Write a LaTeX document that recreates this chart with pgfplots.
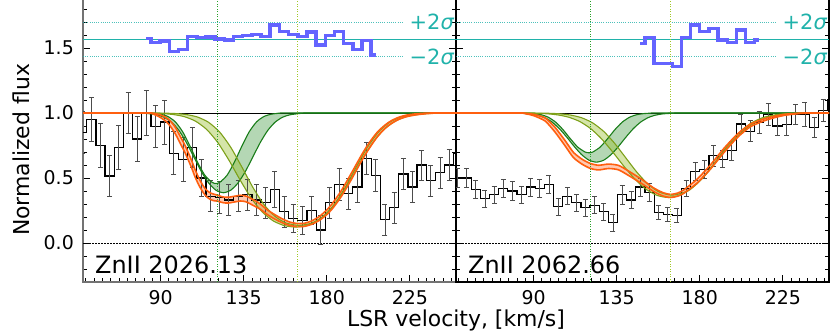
\documentclass[border=0pt]{standalone}
\usepackage{fontspec}
\setmainfont{DejaVu Sans}
\usepackage{pgfplots}
\pgfplotsset{compat=1.18}
\usepackage{pgfplotstable}
\usepgfplotslibrary{fillbetween}

\definecolor{orE}{RGB}{255,95,15}
\definecolor{orF}{RGB}{255,120,60}
\definecolor{dgE}{RGB}{25,125,25}
\definecolor{dgF}{RGB}{40,140,40}
\definecolor{ygE}{RGB}{125,160,25}
\definecolor{ygF}{RGB}{150,190,40}
\definecolor{vlG}{RGB}{40,160,40}
\definecolor{vlY}{RGB}{160,200,40}
\definecolor{resB}{RGB}{100,100,255}
\definecolor{tealS}{RGB}{32,178,170}

% columns: bin centre, bin left edge, flux, error
\pgfplotstableread{
v le f e
47.5 45.0 0.85 0.16
52.5 50.0 0.95 0.17
57.5 55.0 0.75 0.17
62.4 59.9 0.515 0.16
67.4 64.9 0.735 0.17
72.4 69.9 1.0 0.16
77.3 74.8 0.80 0.17
82.3 79.8 1.0 0.17
87.3 84.8 0.895 0.16
92.3 89.8 0.93 0.17
97.2 94.7 0.69 0.165
102.2 99.7 0.64 0.17
107.2 104.7 0.735 0.155
112.1 109.6 0.50 0.14
117.1 114.6 0.36 0.12
122.1 119.6 0.35 0.12
127.0 124.5 0.33 0.12
132.0 129.5 0.36 0.12
137.0 134.5 0.37 0.12
142.0 139.5 0.33 0.12
146.9 144.4 0.31 0.12
151.9 149.4 0.41 0.14
156.9 154.4 0.24 0.12
161.8 159.3 0.19 0.11
166.8 164.3 0.175 0.11
171.8 169.3 0.25 0.11
176.8 174.3 0.10 0.11
181.7 179.2 0.31 0.12
186.7 184.2 0.45 0.12
191.7 189.2 0.38 0.12
196.6 194.1 0.43 0.12
201.6 199.1 0.65 0.125
206.6 204.1 0.52 0.12
211.5 209.0 0.18 0.12
216.5 214.0 0.27 0.12
221.5 219.0 0.53 0.12
226.5 224.0 0.43 0.12
231.4 228.9 0.60 0.115
236.4 233.9 0.48 0.12
241.4 238.9 0.54 0.12
246.3 243.8 0.60 0.12
251.3 248.8 0.69 0.12
256.0 253.8 0.69 0
}\dataL

\pgfplotstableread{
v le f e
48.85 46.4 0.50 0.07
53.8 51.3 0.50 0.07
58.75 56.3 0.41 0.07
63.7 61.2 0.34 0.065
68.65 66.2 0.37 0.065
73.6 71.1 0.42 0.07
78.55 76.1 0.40 0.07
83.5 81.0 0.37 0.065
88.45 86.0 0.43 0.07
93.4 90.9 0.42 0.07
98.35 95.9 0.45 0.07
103.3 100.8 0.28 0.065
108.25 105.8 0.36 0.065
113.2 110.7 0.31 0.065
118.15 115.7 0.27 0.065
123.1 120.6 0.29 0.065
128.05 125.6 0.24 0.065
133.0 130.5 0.157 0.065
137.95 135.5 0.37 0.07
142.9 140.4 0.33 0.065
147.85 145.4 0.43 0.07
152.8 150.3 0.39 0.07
157.75 155.3 0.233 0.055
162.7 160.2 0.22 0.055
167.65 165.2 0.21 0.055
172.6 170.1 0.42 0.065
177.55 175.1 0.55 0.07
182.5 180.0 0.565 0.07
187.45 185.0 0.67 0.08
192.4 189.9 0.645 0.065
197.35 194.9 0.71 0.075
202.3 199.8 0.915 0.075
207.25 204.8 0.86 0.08
212.2 209.7 0.93 0.085
217.15 214.7 0.99 0.085
222.1 219.6 0.90 0.075
227.05 224.6 0.91 0.085
232.0 229.5 0.99 0.075
236.95 234.5 0.99 0.09
241.9 239.4 0.89 0.075
246.85 244.4 1.02 0.085
251.8 249.3 1.10 0.09
257.0 254.3 1.10 0
}\dataR

\pgfplotstableread{
x r
82.3 1.572
84.8 1.541
89.8 1.553
94.75 1.472
99.7 1.49
104.7 1.59
109.65 1.58
114.6 1.585
119.6 1.57
124.55 1.561
129.5 1.59
134.5 1.597
139.5 1.602
144.45 1.59
149.4 1.677
154.4 1.625
159.35 1.602
164.3 1.59
169.3 1.622
174.3 1.523
179.25 1.597
184.2 1.625
189.2 1.536
194.15 1.49
199.1 1.556
204.1 1.446
206.6 1.446
}\resL

\pgfplotstableread{
x r
147.85 1.536
150.3 1.582
155.3 1.382
160.2 1.382
165.2 1.356
170.1 1.582
175.1 1.677
180.0 1.625
185.0 1.651
189.9 1.562
194.9 1.543
199.8 1.638
204.8 1.543
209.7 1.562
212.2 1.562
}\resR

\pgfplotstableread{
v u l
48 1 1
82 1 1
86 0.998 0.992
90 0.985 0.965
93 0.965 0.935
95.2 0.94 0.90
98 0.89 0.84
100.6 0.822 0.768
103 0.758 0.702
105.1 0.692 0.636
107 0.628 0.572
108.7 0.564 0.508
111 0.492 0.438
113.3 0.435 0.385
115 0.405 0.355
117 0.385 0.335
119 0.375 0.325
121 0.368 0.322
123 0.357 0.313
125 0.352 0.308
127 0.352 0.308
129 0.357 0.313
131 0.362 0.318
133 0.367 0.323
135 0.365 0.321
137 0.357 0.313
139 0.342 0.298
141 0.327 0.283
144 0.30 0.26
148 0.253 0.217
152 0.217 0.183
156 0.185 0.155
160 0.161 0.135
164 0.15 0.126
168 0.152 0.128
172 0.171 0.145
176 0.204 0.174
180 0.254 0.218
183 0.303 0.263
187 0.383 0.339
190 0.453 0.407
193.7 0.546 0.498
197 0.63 0.584
199.1 0.683 0.637
202 0.75 0.706
205 0.81 0.77
208 0.862 0.828
211.8 0.91 0.884
215 0.941 0.919
219 0.967 0.951
223 0.983 0.971
228 0.993 0.985
234 0.999 0.995
240 1 1
250 1 1
}\orL

\pgfplotstableread{
v u l
48 1 1
82 1 1
86 0.997 0.993
90 0.99 0.98
96.3 0.962 0.938
101.7 0.888 0.852
107.1 0.787 0.747
111.6 0.697 0.657
116.2 0.645 0.607
120.7 0.612 0.574
125.2 0.598 0.562
130.6 0.607 0.573
136 0.597 0.563
141.5 0.553 0.519
148.7 0.488 0.456
155 0.424 0.396
160 0.388 0.362
164.1 0.374 0.35
168 0.384 0.36
171.3 0.408 0.382
178.5 0.49 0.46
185.8 0.601 0.569
193 0.726 0.694
200.2 0.835 0.809
207.5 0.915 0.895
216.5 0.962 0.948
225.5 0.989 0.981
234.6 0.999 0.997
240 1 1
250 1 1
}\orR

\pgfplotsset{
  panel/.style={
    scale only axis, width=373bp, height=286bp,
    xmin=48, xmax=250, ymin=-0.3, ymax=1.9,
    xtick={90,135,180,225}, xticklabels={90,135,180,225},
    minor xtick={49.5,54,...,249},
    ytick={0,0.5,1,1.5},
    minor ytick={-0.2,-0.1,...,1.85},
    xtick pos=left,
    tick align=inside,
    major tick length=7bp, minor tick length=4bp,
    every tick/.style={black, line width=0.9bp},
    every minor tick/.style={black, line width=0.8bp},
    tick label style={font=\fontsize{19}{19}\selectfont},
    xticklabel style={inner sep=0pt, anchor=north, yshift=-8bp},
    yticklabel style={inner sep=0pt, anchor=east, xshift=-9bp},
    /pgf/number format/assume math mode=true,
    clip=true,
  },
  sigl/.style={tealS, line width=0.8bp, dash pattern=on 1bp off 1.2bp, opacity=0.8},
  stepline/.style={black, line width=1.2bp, const plot mark left, mark=none},
  errs/.style={draw=none, mark=none,
    error bars/.cd, y dir=both, y explicit,
    error bar style={line width=0.8bp, draw=black!70},
    error mark options={rotate=90, draw=black!70, mark size=2.5bp, line width=0.8bp}},
  dgedge/.style={dgE, line width=1.1bp, smooth, tension=0.4},
  ygedge/.style={ygE, line width=1.1bp, smooth, tension=0.4},
  oredge/.style={orE, line width=1.6bp, smooth, tension=0.4},
  resid/.style={resB, line width=3.5bp, const plot mark left, mark=none},
}

\begin{document}
\begin{tikzpicture}
% ---------------- left panel ----------------
\begin{axis}[panel, axis line style={black!55, line width=1.3bp},
  yticklabels={0.0,0.5,1.0,1.5}]
  \addplot[tealS, line width=0.8bp] coordinates {(48,1.567) (250,1.567)};
  \addplot[sigl] coordinates {(48,1.70) (221.7,1.70)};
  \addplot[sigl] coordinates {(48,1.432) (221.7,1.432)};
  \addplot[black, line width=0.8bp] coordinates {(48,1) (250,1)};
  \addplot[black, line width=0.7bp, dash pattern=on 1.5bp off 1.5bp] coordinates {(48,0) (250,0)};
  \addplot[stepline] table[x=le, y=f] {\dataL};
  \addplot[errs] table[x=v, y=f, y error=e] {\dataL};
  \addplot[dgedge, name path=aU1] coordinates {(48,1) (80,1) (86,0.9975) (90,0.991) (94,0.973) (98,0.932) (102,0.855) (106,0.744) (110,0.622) (114,0.521) (118,0.466) (120,0.458) (122,0.466) (126,0.521) (130,0.622) (134,0.744) (138,0.855) (142,0.932) (146,0.973) (150,0.991) (154,0.9975) (160,1) (250,1)};
  \addplot[dgedge, name path=aL1] coordinates {(48,1) (76,1) (82,0.997) (88,0.986) (92,0.967) (96,0.929) (100,0.865) (104,0.773) (108,0.6625) (112,0.552) (116,0.4627) (120,0.406) (124,0.3867) (128,0.406) (132,0.4627) (136,0.552) (140,0.6625) (144,0.773) (148,0.865) (152,0.929) (156,0.967) (160,0.986) (166,0.997) (172,1) (250,1)};
  \addplot[dgF, fill opacity=0.35, draw=none] fill between[of=aU1 and aL1];
  \addplot[ygedge, name path=aU2] coordinates {(48,1) (86,1) (92,0.9987) (98,0.9958) (104,0.988) (110,0.969) (116,0.9285) (122,0.8535) (128,0.7365) (134,0.5854) (140,0.4279) (146,0.2956) (152,0.2047) (158,0.1541) (165,0.1353) (172,0.1541) (178,0.2047) (184,0.2956) (190,0.4279) (196,0.5854) (202,0.7365) (208,0.8535) (214,0.9285) (220,0.969) (226,0.988) (232,0.9958) (238,0.9987) (244,1) (250,1)};
  \addplot[ygedge, name path=aL2] coordinates {(48,1) (80,1) (85,0.9985) (91,0.9956) (97,0.988) (103,0.9714) (109,0.9366) (115,0.8731) (121,0.7727) (127,0.6378) (133,0.4866) (139,0.347) (145,0.2396) (151,0.1704) (157,0.1337) (163,0.1225) (169,0.1337) (175,0.1704) (181,0.2396) (187,0.347) (193,0.4866) (199,0.6378) (205,0.7727) (211,0.8731) (217,0.9366) (223,0.9714) (229,0.988) (235,0.9956) (241,0.9985) (247,1) (250,1)};
  \addplot[ygF, fill opacity=0.4, draw=none] fill between[of=aU2 and aL2];
  \addplot[oredge, name path=aUo] table[x=v, y=u] {\orL};
  \addplot[oredge, name path=aLo] table[x=v, y=l] {\orL};
  \addplot[orF, fill opacity=0.4, draw=none] fill between[of=aUo and aLo];
  \addplot[vlG, line width=1bp, dash pattern=on 1bp off 1.5bp] coordinates {(120.7,-0.3) (120.7,1.9)};
  \addplot[vlY, line width=1bp, dash pattern=on 1bp off 1.5bp] coordinates {(164,-0.3) (164,1.9)};
  \addplot[resid] table[x=x, y=r] {\resL};
  \node[anchor=west, inner sep=0pt, text=tealS, font=\fontsize{21}{21}\selectfont] at (axis cs:224.8,1.70) {+2{\itshape σ}};
  \node[anchor=west, inner sep=0pt, text=tealS, font=\fontsize{21}{21}\selectfont] at (axis cs:224.8,1.432) {−2{\itshape σ}};
  \node[anchor=base west, inner sep=0pt, font=\fontsize{24}{24}\selectfont] at (axis cs:54.5,-0.232) {ZnII 2026.13};
\end{axis}
% ---------------- right panel ----------------
\begin{axis}[panel, at={(373bp,0)}, anchor=south west,
  axis line style={black, line width=1.3bp}, yticklabels={}]
  \addplot[tealS, line width=0.8bp] coordinates {(48,1.567) (250,1.567)};
  \addplot[sigl] coordinates {(48,1.70) (221.7,1.70)};
  \addplot[sigl] coordinates {(48,1.432) (221.7,1.432)};
  \addplot[black, line width=0.8bp] coordinates {(48,1) (250,1)};
  \addplot[black, line width=0.7bp, dash pattern=on 1.5bp off 1.5bp] coordinates {(48,0) (250,0)};
  \addplot[stepline] table[x=le, y=f] {\dataR};
  \addplot[errs] table[x=v, y=f, y error=e] {\dataR};
  \addplot[dgedge, name path=bU1] coordinates {(48,1) (80,1) (86,0.9988) (90,0.9958) (94,0.9873) (98,0.9674) (102,0.9294) (106,0.871) (110,0.8007) (114,0.7369) (118,0.6993) (120,0.6942) (122,0.6993) (126,0.7369) (130,0.8007) (134,0.871) (138,0.9294) (142,0.9674) (146,0.9873) (150,0.9958) (154,0.9988) (160,1) (250,1)};
  \addplot[dgedge, name path=bL1] coordinates {(48,1) (76,1) (82,0.9985) (88,0.9931) (92,0.9834) (96,0.964) (100,0.9302) (104,0.8793) (108,0.8139) (112,0.7431) (116,0.6802) (120,0.6371) (124,0.6219) (128,0.6371) (132,0.6802) (136,0.7431) (140,0.8139) (144,0.8793) (148,0.9302) (152,0.964) (156,0.9834) (160,0.9931) (166,0.9985) (172,1) (250,1)};
  \addplot[dgF, fill opacity=0.35, draw=none] fill between[of=bU1 and bL1];
  \addplot[ygedge, name path=bU2] coordinates {(48,1) (86,1) (92,0.9993) (98,0.9979) (104,0.994) (110,0.9843) (116,0.9636) (122,0.9239) (128,0.8582) (134,0.7651) (140,0.6541) (146,0.5437) (152,0.4524) (158,0.3926) (165,0.3679) (172,0.3926) (178,0.4524) (184,0.5437) (190,0.6541) (196,0.7651) (202,0.8582) (208,0.9239) (214,0.9636) (220,0.9843) (226,0.994) (232,0.9979) (238,0.9993) (244,1) (250,1)};
  \addplot[ygedge, name path=bL2] coordinates {(48,1) (80,1) (85,0.9992) (91,0.9978) (97,0.9941) (103,0.9856) (109,0.9677) (115,0.9344) (121,0.8791) (127,0.7986) (133,0.6976) (139,0.5891) (145,0.4896) (151,0.4128) (157,0.3657) (163,0.3499) (169,0.3657) (175,0.4128) (181,0.4896) (187,0.5891) (193,0.6976) (199,0.7986) (205,0.8791) (211,0.9344) (217,0.9677) (223,0.9856) (229,0.9941) (235,0.9978) (241,0.9992) (247,1) (250,1)};
  \addplot[ygF, fill opacity=0.4, draw=none] fill between[of=bU2 and bL2];
  \addplot[oredge, name path=bUo] table[x=v, y=u] {\orR};
  \addplot[oredge, name path=bLo] table[x=v, y=l] {\orR};
  \addplot[orF, fill opacity=0.4, draw=none] fill between[of=bUo and bLo];
  \addplot[vlG, line width=1bp, dash pattern=on 1bp off 1.5bp] coordinates {(120.7,-0.3) (120.7,1.9)};
  \addplot[vlY, line width=1bp, dash pattern=on 1bp off 1.5bp] coordinates {(164,-0.3) (164,1.9)};
  \addplot[resid] table[x=x, y=r] {\resR};
  \node[anchor=west, inner sep=0pt, text=tealS, font=\fontsize{21}{21}\selectfont] at (axis cs:224.8,1.70) {+2{\itshape σ}};
  \node[anchor=west, inner sep=0pt, text=tealS, font=\fontsize{21}{21}\selectfont] at (axis cs:224.8,1.432) {−2{\itshape σ}};
  \node[anchor=base west, inner sep=0pt, font=\fontsize{24}{24}\selectfont] at (axis cs:54.5,-0.232) {ZnII 2062.66};
\end{axis}
\node[anchor=base, inner sep=0pt, font=\fontsize{22}{22}\selectfont] at (373bp,-44.7bp) {LSR velocity, [km/s]};
\node[anchor=base, rotate=90, inner sep=0pt, font=\fontsize{22}{22}\selectfont] at (-53bp,132bp) {Normalized flux};
\pgfresetboundingbox
\useasboundingbox (-83bp,-50bp) rectangle (747bp,282bp);
\end{tikzpicture}
\end{document}
